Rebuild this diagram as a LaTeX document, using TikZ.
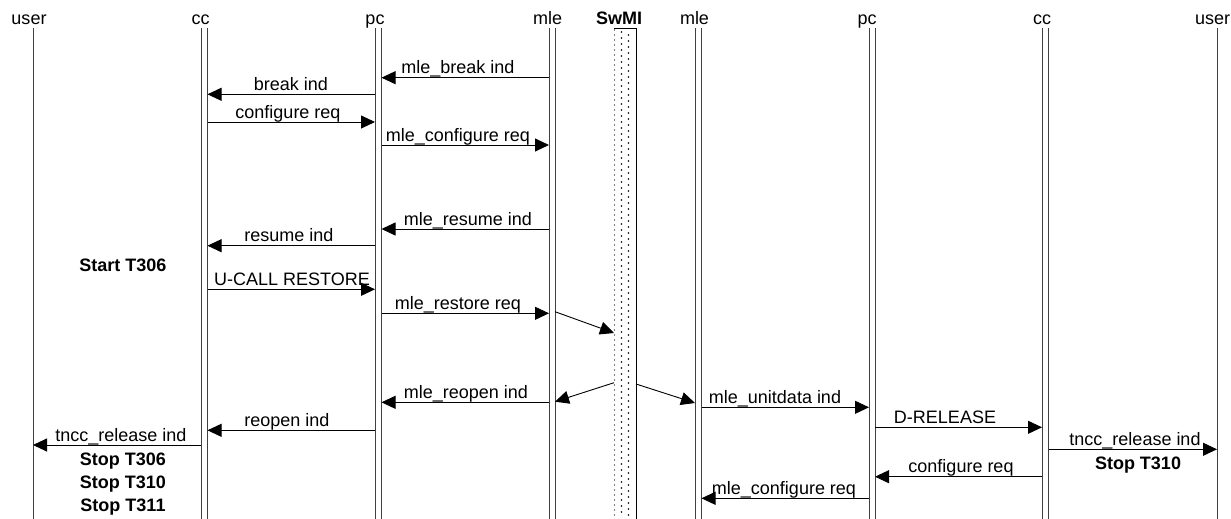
\documentclass[tikz,border=0pt]{standalone}
\usepackage{fontspec}
\setmainfont{Liberation Sans}
\usetikzlibrary{arrows.meta}
\begin{document}
\begin{tikzpicture}[x=1pt,y=-1pt,
  life/.style={line width=1pt, draw=black!75},
  msg/.style={line width=0.9pt, -{Triangle[length=14pt,width=13pt]}},
  lbl/.style={font=\fontsize{18}{21}\selectfont, anchor=base, inner sep=0pt},
  blbl/.style={font=\fontsize{18}{21}\selectfont\bfseries, anchor=base, inner sep=0pt},
]
\useasboundingbox (0,0) rectangle (1231,519);
% lifeline x positions
\coordinate (userL) at (33,28);
\coordinate (ccLa) at (201,28);
\coordinate (ccLb) at (207.5,28);
\coordinate (pcLa) at (375,28);
\coordinate (pcLb) at (381.5,28);
\coordinate (mleLa) at (549,28);
\coordinate (mleLb) at (555,28);
\coordinate (swL) at (614,28);
\coordinate (swR) at (636,28);
\coordinate (mleRa) at (695,28);
\coordinate (mleRb) at (701.5,28);
\coordinate (pcRa) at (869,28);
\coordinate (pcRb) at (875,28);
\coordinate (ccRa) at (1042,28);
\coordinate (ccRb) at (1048.5,28);
\coordinate (userR) at (1217,28);
% headers
\node[lbl] (h1) at (29,25) {user};
\node[lbl] (h2) at (200.5,25) {cc};
\node[lbl] (h3) at (375,25) {pc};
\node[lbl] (h4) at (547.7,25) {mle};
\node[blbl] (h5) at (619,25) {SwMI};
\node[lbl] (h6) at (694.5,25) {mle};
\node[lbl] (h7) at (867,25) {pc};
\node[lbl] (h8) at (1042,25) {cc};
\node[lbl] (h9) at (1212.5,25) {user};
% lifelines
\foreach \c in {userL,ccLa,ccLb,pcLa,pcLb,mleLa,mleLb,mleRa,mleRb,pcRa,pcRb,ccRa,ccRb,userR}
  \draw[life] (\c) -- (\c |- 0,519);
% SwMI column
\fill[white] (614,28) rectangle (636,519);
\foreach \yy in {30,35,...,518} {
  \fill (614.5,\yy) circle (0.7pt);
}
\draw[line width=0.9pt] (swL) -- (swR) -- (swR |- 0,519);
\foreach \yy in {32,38,...,516} {
  \fill (621.5,\yy) circle (0.9pt);
  \fill (628.5,\yy+3) circle (0.9pt);
}
% messages
\draw[msg] (mleLa |- 0,77.7) -- (pcLb |- 0,77.7);
\node[lbl] (m1) at (458,73.7) {mle\_break ind};
\draw[msg] (pcLa |- 0,94.3) -- (ccLb |- 0,94.3);
\node[lbl] (m2) at (291,90.3) {break ind};
\draw[msg] (ccLb |- 0,122) -- (pcLa |- 0,122);
\node[lbl] (m3) at (288,118) {configure req};
\draw[msg] (pcLb |- 0,145) -- (mleLa |- 0,145);
\node[lbl] (m4) at (458,141) {mle\_configure req};
\draw[msg] (mleLa |- 0,229) -- (pcLb |- 0,229);
\node[lbl] (m5) at (468,225) {mle\_resume ind};
\draw[msg] (pcLa |- 0,245.7) -- (ccLb |- 0,245.7);
\node[lbl] (m6) at (289,241.7) {resume ind};
\draw[msg] (ccLb |- 0,289.3) -- (pcLa |- 0,289.3);
\node[lbl] (m7) at (292,285.3) {U-CALL RESTORE};
\draw[msg] (pcLb |- 0,313.3) -- (mleLa |- 0,313.3);
\node[lbl] (m8) at (458,309.3) {mle\_restore req};
\draw[msg] (mleLb |- 0,311.7) -- (swL |- 0,333);
\draw[msg] (swL |- 0,382.7) -- (mleLb |- 0,401.7);
\draw[msg] (swR |- 0,384) -- (mleRa |- 0,403);
\draw[msg] (mleLa |- 0,402.3) -- (pcLb |- 0,402.3);
\node[lbl] (m9) at (466,398.3) {mle\_reopen ind};
\draw[msg] (mleRb |- 0,407.3) -- (pcRa |- 0,407.3);
\node[lbl] (m10) at (775,403.3) {mle\_unitdata ind};
\draw[msg] (pcRb |- 0,427.3) -- (ccRa |- 0,427.3);
\node[lbl] (m11) at (945,423.3) {D-RELEASE};
\draw[msg] (pcLa |- 0,430.3) -- (ccLb |- 0,430.3);
\node[lbl] (m12) at (287,426.3) {reopen ind};
\draw[msg] (ccLa |- 0,445) -- (userL |- 0,445);
\node[lbl] (m13) at (121,441) {tncc\_release ind};
\draw[msg] (ccRb |- 0,449.3) -- (userR |- 0,449.3);
\node[lbl] (m14) at (1135,445.3) {tncc\_release ind};
\draw[msg] (ccRa |- 0,476.7) -- (pcRb |- 0,476.7);
\node[lbl] (m15) at (961,472.7) {configure req};
\draw[msg] (pcRa |- 0,498.3) -- (mleRb |- 0,498.3);
\node[lbl] (m16) at (784,494.3) {mle\_configure req};
% timer notes
\node[blbl] (t1) at (123,271) {Start T306};
\node[blbl] (t2) at (123,465) {Stop T306};
\node[blbl] (t3) at (123,488.3) {Stop T310};
\node[blbl] (t4) at (123,511.7) {Stop T311};
\node[blbl] (t5) at (1138,469.3) {Stop T310};
\end{tikzpicture}
\end{document}
